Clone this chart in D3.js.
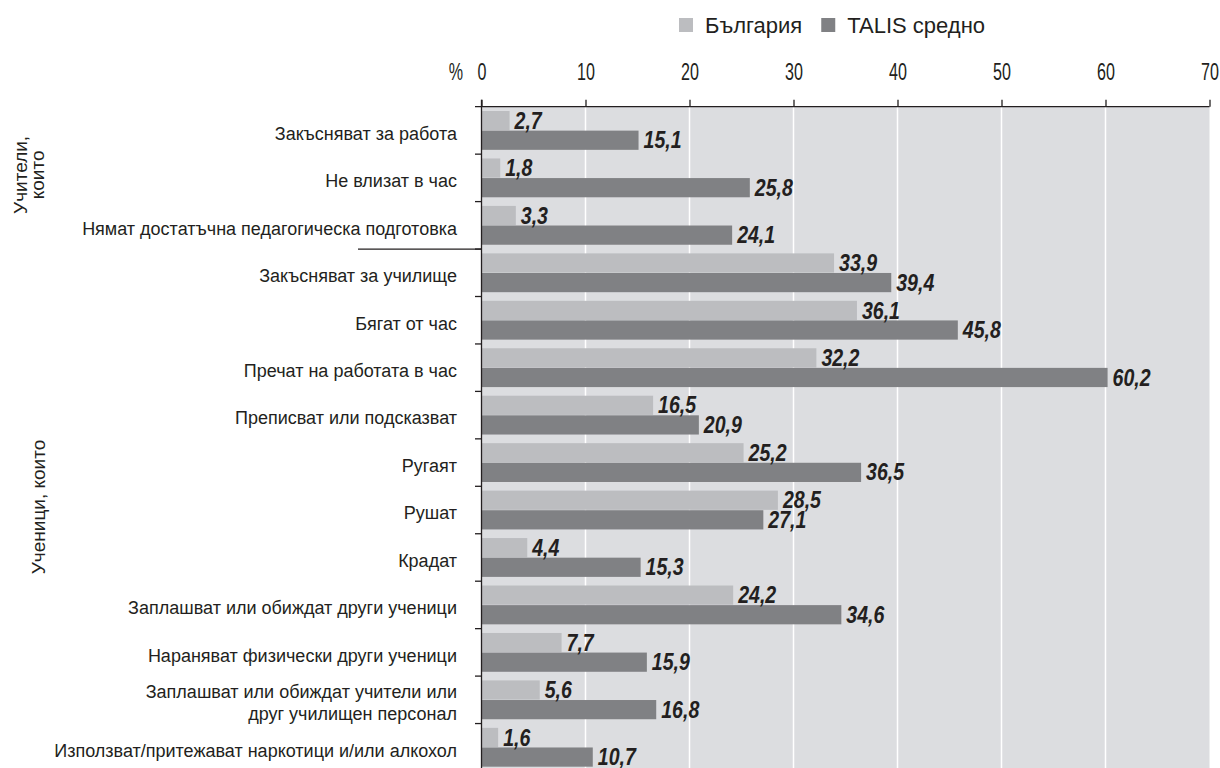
<!DOCTYPE html>
<html>
<head>
<meta charset="utf-8">
<script src="https://cdn.jsdelivr.net/npm/d3@7/dist/d3.min.js"></script>
<style>
  html, body { margin: 0; padding: 0; background: #ffffff; }
  svg { display: block; }
  .cat { font-family: "Liberation Sans", Arial, sans-serif; font-size: 18px; fill: #231f20; }
  .grp { font-family: "Liberation Sans", Arial, sans-serif; font-size: 19px; fill: #231f20; }
  .tick-lbl { font-family: "Liberation Sans", Arial, sans-serif; font-size: 23px; fill: #231f20; }
  .val { font-family: "Liberation Sans", Arial, sans-serif; font-size: 23px; font-weight: bold; font-style: italic; fill: #231f20; }
  .leg { font-family: "Liberation Sans", Arial, sans-serif; font-size: 22px; fill: #231f20; }
</style>
</head>
<body>
<svg id="chart" width="1220" height="768"></svg>
<script>
// Categories (top to bottom); "\n" splits a label onto two lines
const categories = [
  "Закъсняват за работа",
  "Не влизат в час",
  "Нямат достатъчна педагогическа подготовка",
  "Закъсняват за училище",
  "Бягат от час",
  "Пречат на работата в час",
  "Преписват или подсказват",
  "Ругаят",
  "Рушат",
  "Крадат",
  "Заплашват или обиждат други ученици",
  "Нараняват физически други ученици",
  "Заплашват или обиждат учители или\nдруг училищен персонал",
  "Използват/притежават наркотици и/или алкохол"
];

const seriesNames = ["България", "TALIS средно"];
const bulgaria = [2.7, 1.8, 3.3, 33.9, 36.1, 32.2, 16.5, 25.2, 28.5, 4.4, 24.2, 7.7, 5.6, 1.6];
const talis    = [15.1, 25.8, 24.1, 39.4, 45.8, 60.2, 20.9, 36.5, 27.1, 15.3, 34.6, 15.9, 16.8, 10.7];

const tickValues = [0, 10, 20, 30, 40, 50, 60, 70];

// Row groups: label lines, first and last row index
const groups = [
  { lines: ["Учители,", "които"], from: 0, to: 2 },
  { lines: ["Ученици, които"], from: 3, to: 13 }
];

const colors = { "България": "#bcbdc0", "TALIS средно": "#808184" };

// Horizontal squeeze that gives the condensed look of numbers
const NARROW_TICK = 0.7;
const NARROW_VAL = 0.85;

const svg = d3.select("#chart");

const x = d3.scaleLinear().domain([0, 70]).range([481.5, 1209.5]);
const y = d3.scaleBand().domain(d3.range(categories.length)).range([106.7, 771]).padding(0);
const sub = d3.scaleBand().domain(seriesNames).range([0, y.bandwidth()])
  .paddingInner(0.02).paddingOuter(0.22);

const fmt = v => d3.format(".1f")(v).replace(".", ",");

// Plot background and vertical gridlines
svg.append("rect")
  .attr("x", x(0)).attr("y", y.range()[0])
  .attr("width", x(70) - x(0)).attr("height", y.range()[1] - y.range()[0])
  .attr("fill", "#dcdde0");

svg.append("g").selectAll("line")
  .data(tickValues.filter(v => v > 0 && v < 70))
  .join("line")
  .attr("x1", d => x(d)).attr("x2", d => x(d))
  .attr("y1", y.range()[0]).attr("y2", y.range()[1])
  .attr("stroke", "#ffffff").attr("stroke-width", 1.5);

// Bars
const rows = categories.map((c, i) => ({ i, values: [
  { key: "България", v: bulgaria[i] },
  { key: "TALIS средно", v: talis[i] }
]}));

const rowG = svg.append("g").selectAll("g")
  .data(rows).join("g")
  .attr("transform", d => `translate(0,${y(d.i)})`);

rowG.selectAll("rect")
  .data(d => d.values).join("rect")
  .attr("x", x(0))
  .attr("y", d => sub(d.key))
  .attr("width", d => x(d.v) - x(0))
  .attr("height", sub.bandwidth())
  .attr("fill", d => colors[d.key]);

rowG.selectAll("text")
  .data(d => d.values).join("text")
  .attr("class", "val")
  .attr("transform", d => `translate(${x(d.v) + 5},${sub(d.key) + sub.bandwidth() - 1.5}) scale(${NARROW_VAL},1)`)
  .text(d => fmt(d.v));

// Top axis
const axis = d3.axisTop(x).tickValues(tickValues).tickSize(7).tickSizeOuter(0).tickFormat(d3.format("d"));
const axG = svg.append("g").attr("transform", `translate(0,${y.range()[0]})`).call(axis);
axG.select(".domain").remove();
axG.selectAll(".tick line").attr("stroke", "#231f20").attr("stroke-width", 1.3);
axG.selectAll(".tick text")
  .attr("class", "tick-lbl")
  .attr("y", null).attr("dy", null)
  .attr("transform", `translate(0,-27) scale(${NARROW_TICK},1)`);
axG.append("line")
  .attr("x1", x(0) - 6.5).attr("x2", x(70))
  .attr("stroke", "#231f20").attr("stroke-width", 1.3);

svg.append("text").attr("class", "tick-lbl")
  .attr("text-anchor", "middle")
  .attr("transform", `translate(456,${y.range()[0] - 27}) scale(${NARROW_TICK},1)`)
  .text("%");

// Left axis line and row boundary ticks
svg.append("line")
  .attr("x1", x(0)).attr("x2", x(0))
  .attr("y1", y.range()[0] - 7).attr("y2", y.range()[1])
  .attr("stroke", "#231f20").attr("stroke-width", 1.3);

svg.append("g").selectAll("line")
  .data(d3.range(1, categories.length))
  .join("line")
  .attr("x1", x(0) - 6.5).attr("x2", x(0))
  .attr("y1", d => y(d)).attr("y2", d => y(d))
  .attr("stroke", "#231f20").attr("stroke-width", 1.3);

// Separator between the two row groups
svg.append("line")
  .attr("x1", 358).attr("x2", x(0))
  .attr("y1", y(groups[1].from)).attr("y2", y(groups[1].from))
  .attr("stroke", "#231f20").attr("stroke-width", 1.3);

// Category labels
const catG = svg.append("g").selectAll("text")
  .data(categories.map((c, i) => ({ c, i })))
  .join("text")
  .attr("class", "cat")
  .attr("text-anchor", "end")
  .attr("x", 457)
  .attr("y", d => y(d.i) + y.bandwidth() / 2 + 3);

catG.each(function(d) {
  const lines = d.c.split("\n");
  const t = d3.select(this);
  lines.forEach((ln, k) => {
    t.append("tspan")
      .attr("x", 457)
      .attr("dy", k === 0 ? `${0.35 - (lines.length - 1) * 0.6}em` : "1.2em")
      .text(ln);
  });
});

// Group labels (rotated)
groups.forEach(g => {
  const cy = (y(g.from) + y(g.to) + y.bandwidth()) / 2;
  const cx = g.lines.length > 1 ? 29 : 38.5;
  const t = svg.append("text").attr("class", "grp")
    .attr("text-anchor", "middle")
    .attr("transform", `translate(${cx},${cy - 3}) rotate(-90)`);
  g.lines.forEach((ln, k) => {
    t.append("tspan").attr("x", 0)
      .attr("dy", k === 0 ? `${0.35 - (g.lines.length - 1) * 0.45}em` : "0.9em")
      .text(ln);
  });
});

// Legend
const legend = svg.append("g").attr("transform", "translate(0,25)");
let lx = 679;
seriesNames.forEach(name => {
  const item = legend.append("g").attr("transform", `translate(${lx},0)`);
  item.append("rect").attr("x", 0).attr("y", -7).attr("width", 14).attr("height", 14)
    .attr("fill", colors[name]);
  const txt = item.append("text").attr("class", "leg").attr("x", 26).attr("y", 7.5).text(name);
  lx += 26 + txt.node().getComputedTextLength() + 19;
});
</script>
</body>
</html>
